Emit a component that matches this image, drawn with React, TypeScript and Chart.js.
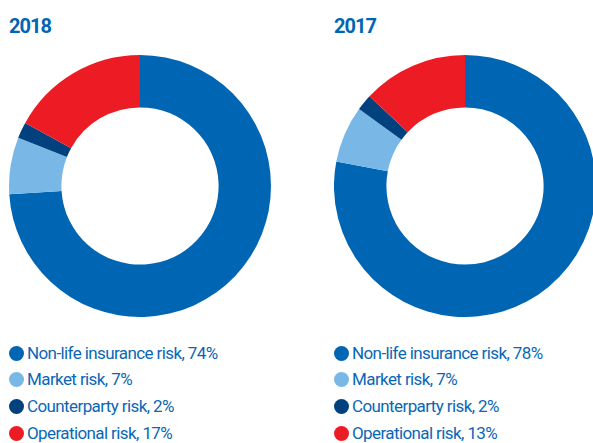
import React, { useEffect, useRef } from "react";
import { Chart, registerables } from "chart.js";

Chart.register(...registerables);

const categories = ["Non-life insurance risk", "Market risk", "Counterparty risk", "Operational risk"];
const values2018 = [74, 7, 2, 17];
const values2017 = [78, 7, 2, 13];
const years = ["2018", "2017"];
const colors = ["#0066b3", "#79b8e6", "#00417e", "#ed1c24"];

const FONT = "Roboto, 'DejaVu Sans', sans-serif";
const TEXT_BLUE = "#0a67b6";

function Donut({ values, left }: { values: number[]; left: number }) {
  const ref = useRef<HTMLCanvasElement | null>(null);
  useEffect(() => {
    if (!ref.current) return;
    const chart = new Chart(ref.current, {
      type: "doughnut",
      data: {
        labels: categories,
        datasets: [
          {
            data: values,
            backgroundColor: colors,
            borderWidth: 0,
            offset: 0,
            hoverOffset: 0,
          },
        ],
      },
      options: {
        responsive: false,
        animation: false,
        cutout: "60%",
        layout: { padding: 0 },
        plugins: { legend: { display: false }, tooltip: { enabled: false } },
      },
    });
    return () => chart.destroy();
  }, [values]);
  return (
    <canvas
      ref={ref}
      width={262}
      height={262}
      style={{ position: "absolute", left, top: 55, width: 262, height: 262 }}
    />
  );
}

function Legend({ values, left }: { values: number[]; left: number }) {
  return (
    <>
      {categories.map((c, i) => (
        <div
          key={c}
          style={{
            position: "absolute",
            left,
            top: 345 + i * 26.9,
            height: 16,
            display: "flex",
            alignItems: "center",
            whiteSpace: "nowrap",
          }}
        >
          <span
            style={{
              display: "inline-block",
              width: 15,
              height: 15,
              borderRadius: "50%",
              background: colors[i],
              marginRight: 3,
              flex: "none",
            }}
          />
          <span
            style={{
              fontFamily: FONT,
              fontSize: 17,
              lineHeight: "17px",
              color: TEXT_BLUE,
              letterSpacing: "-0.6px",
            }}
          >
            {c}, {values[i]}%
          </span>
        </div>
      ))}
    </>
  );
}

export default function App() {
  const sets = [values2018, values2017];
  const chartLefts = [8.5, 334];
  const textLefts = [9, 334];
  return (
    <div
      style={{
        position: "fixed",
        left: 0,
        top: 0,
        width: 593,
        height: 443,
        overflow: "hidden",
        background: "#ffffff",
      }}
    >
      {years.map((y, k) => (
        <React.Fragment key={y}>
          <div
            style={{
              position: "absolute",
              left: textLefts[k],
              top: 16,
              fontFamily: FONT,
              fontWeight: 700,
              fontSize: 20,
              lineHeight: "20px",
              letterSpacing: "-1px",
              color: "#0066b3",
            }}
          >
            {y}
          </div>
          <Donut values={sets[k]} left={chartLefts[k]} />
          <Legend values={sets[k]} left={textLefts[k]} />
        </React.Fragment>
      ))}
    </div>
  );
}
